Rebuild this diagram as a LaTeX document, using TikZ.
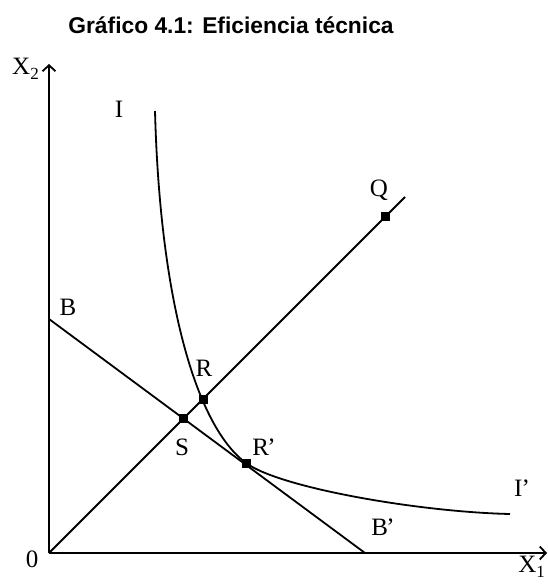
\documentclass[tikz,border=0pt]{standalone}
\usepackage{fontspec}
\setmainfont{Liberation Serif}
\newfontfamily\titlefont{Liberation Sans}
\usetikzlibrary{arrows.meta}
\newcommand{\subtxt}[1]{\raisebox{-5pt}{\fontsize{17}{20}\selectfont #1}}
\begin{document}
\begin{tikzpicture}[x=1pt,y=-1pt,
  ln/.style={line width=1.8pt,black},
  pt/.style={fill=black,inner sep=0pt,minimum size=9pt,draw=none,rectangle},
  lbl/.style={font=\fontsize{25}{28}\selectfont,inner sep=0pt},
  axarrow/.style={ln,-{Straight Barb[length=6pt,width=13pt,line width=1.8pt]}}]
\useasboundingbox (0,0) rectangle (547,585);
\node[font=\titlefont\bfseries\fontsize{22.8}{26}\selectfont,inner sep=0pt] (title) at (231,25) {Gráfico 4.1: Eficiencia técnica};
% axes
\coordinate (O) at (49,553);
\coordinate (Ytop) at (49,64);
\coordinate (Xend) at (547,553);
\draw[axarrow] (O) -- (Ytop);
\draw[axarrow] (O) -- (Xend);
% budget line
\coordinate (Bs) at (49,319);
\coordinate (Be) at (365,553);
\draw[ln] (Bs) -- (Be);
% ray
\coordinate (Rend) at (405,197);
\draw[ln] (O) -- (Rend);
% points
\node[pt] (S) at (183,418) {};
\node[pt] (R) at (203,399) {};
\node[pt] (Rp) at (246,463) {};
\node[pt] (Q) at (385,216) {};
% isoquant
\coordinate (Itop) at (155,111);
\coordinate (Iend) at (510,514);
\draw[ln] (Itop) .. controls (160,300) and (196,426) .. (Rp.center)
  .. controls (280,488) and (420,512) .. (Iend);
% labels
\node[lbl] (lI) at (119,109) {I};
\node[lbl] (lB) at (68,307) {B};
\node[lbl] (lR) at (204,368) {R};
\node[lbl] (lS) at (182,447) {S};
\node[lbl] (lRp) at (264,447) {R\kern-1.5pt’};
\node[lbl] (lQ) at (379,190) {Q};
\node[lbl] (lIp) at (522,488) {I\kern-1pt’};
\node[lbl] (lBp) at (383,527) {B\kern-1.5pt’};
\node[lbl] (l0) at (32,559) {0};
\node[lbl,anchor=base east] (lX2) at (39,75) {X\subtxt{2}};
\node[lbl,anchor=base east] (lX1) at (545,572) {X\subtxt{1}};
\end{tikzpicture}
\end{document}
